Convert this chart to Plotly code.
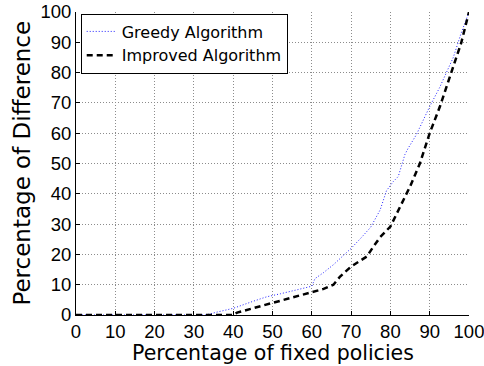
import plotly.graph_objects as go

greedy_x = [0, 10, 20, 30, 33, 36, 40, 45, 48.5, 52, 56.5, 60, 60.8, 63, 65.5, 70, 72.5, 75, 77.4, 79, 80.7, 82, 83.7, 84.5, 86.6, 88.3, 90, 92.5, 94.2, 96, 98, 100]
greedy_y = [0, 0, 0, 0, 0, 1, 2.2, 4.5, 6, 7, 8.5, 9.5, 12, 14, 16.6, 22, 25.4, 29, 34.7, 41, 44, 45.7, 53, 55, 59.5, 64.4, 68.8, 75, 80, 85, 93, 100]

improved_x = [0, 10, 20, 30, 40, 41, 45, 48.5, 52, 56, 60, 63, 65.5, 67.2, 70, 74, 75.7, 77.4, 80, 82.4, 85, 87.5, 90, 92.6, 94.2, 96, 98, 100]
improved_y = [0, 0, 0, 0, 0, 0.8, 2.2, 3.6, 4.6, 6, 7.5, 8.6, 10, 12.7, 16, 19.3, 22.6, 25.7, 29.2, 35.8, 42.4, 50, 60, 68.8, 75.4, 82, 89.7, 100]

ticks = list(range(0, 101, 10))
x_title = "Percentage of fixed policies"
y_title = "Percentage of Difference"

TICKFONT = "Liberation Sans, Arial, Helvetica"
TEXTFONT = "DejaVu Sans"

fig = go.Figure()
fig.add_trace(go.Scatter(x=greedy_x, y=greedy_y, mode="lines", name="Greedy Algorithm",
                         line=dict(color="#2020ff", width=1, dash="1px,2px")))
fig.add_trace(go.Scatter(x=improved_x, y=improved_y, mode="lines", name="Improved Algorithm",
                         line=dict(color="black", width=2.5, dash="6px,4px")))

axis_common = dict(
    range=[0, 100], tickvals=ticks, ticktext=[str(t) for t in ticks],
    showgrid=True, gridcolor="#8c8c8c", griddash="1px,2px", gridwidth=1,
    showline=True, linecolor="black", linewidth=1,
    ticks="inside", ticklen=4, tickcolor="black",
    zeroline=False, automargin=False, ticklabeloverflow="allow",
    tickfont=dict(size=18.5, color="black", family=TICKFONT),
)

fig.update_layout(
    width=484, height=366,
    margin=dict(l=76, r=15, t=12, b=51),
    paper_bgcolor="white", plot_bgcolor="white",
    font=dict(family=TEXTFONT, color="black"),
    xaxis=dict(**axis_common, ticklabelstandoff=0),
    yaxis=dict(**axis_common, ticklabelstandoff=0),
    legend=dict(x=0.012, y=0.995, xanchor="left", yanchor="top",
                bgcolor="white", bordercolor="black", borderwidth=1,
                font=dict(size=16, family=TEXTFONT), tracegroupgap=0, itemwidth=30),
    showlegend=True,
    annotations=[
        dict(text=x_title, xref="paper", yref="paper", x=0.5025, y=-0.1683, xanchor="center",
             yanchor="bottom", showarrow=False, borderpad=0,
             font=dict(size=20.5, family=TEXTFONT, color="black")),
        dict(text=y_title, xref="paper", yref="paper", x=-0.100, y=0.502, xanchor="right",
             yanchor="middle", textangle=-90, showarrow=False,
             font=dict(size=23, family=TEXTFONT, color="black")),
    ],
)

fig.write_html("out.html", config={"displayModeBar": False},
               post_script="document.body.style.margin='0';")
